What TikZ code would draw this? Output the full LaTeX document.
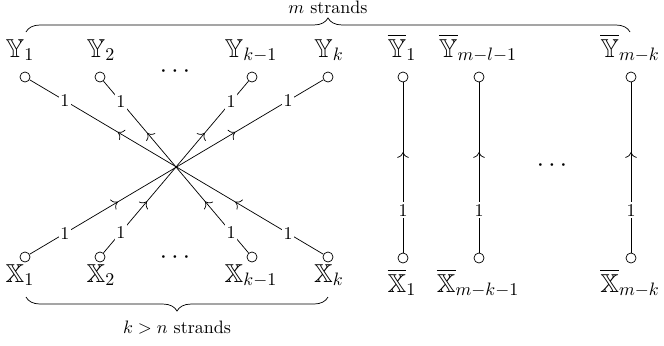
\documentclass[tikz,border=0pt]{standalone}
\usepackage{amssymb}
\usetikzlibrary{decorations.pathreplacing,decorations.markings,arrows.meta}
\begin{document}
\begin{tikzpicture}[x=0.5556pt,y=-0.5556pt,
  pt/.style={circle,draw,inner sep=0pt,minimum size=5.6pt},
  lab/.style={anchor=base,font=\Large},
  one/.style={fill=white,inner sep=1pt,font=\normalsize},
  diag/.style={decoration={markings,mark=at position 0.3 with {\arrow{To[scale=1.25]}},mark=at position 0.7 with {\arrow{To[scale=1.25]}}},postaction={decorate}},
  vert/.style={decoration={markings,mark=at position 0.59 with {\arrow{To[scale=1.25]}}},postaction={decorate}},
  bracestyle/.style={decorate,decoration={brace,amplitude=7.8pt}},
  dotsty/.style={font=\Large},
]
\useasboundingbox (0,0) rectangle (664,345);
% circles
\node[pt] (y1) at (25,77) {};
\node[pt] (y2) at (100,77) {};
\node[pt] (yk1) at (252,77) {};
\node[pt] (yk) at (328,77) {};
\node[pt] (x1) at (25,257) {};
\node[pt] (x2) at (100,257) {};
\node[pt] (xk1) at (252,257) {};
\node[pt] (xk) at (328,257) {};
\node[pt] (yb1) at (403,77) {};
\node[pt] (yb2) at (479,77) {};
\node[pt] (yb3) at (631,77) {};
\node[pt] (xb1) at (403,258) {};
\node[pt] (xb2) at (479,258) {};
\node[pt] (xb3) at (631,258) {};
% labels
\node[lab] (ly1) at (20,57) {$\mathbb{Y}_1$};
\node[lab] (ly2) at (101,57) {$\mathbb{Y}_2$};
\node[lab] (lyk1) at (251,57) {$\mathbb{Y}_{k-1}$};
\node[lab] (lyk) at (329,57) {$\mathbb{Y}_k$};
\node[lab] (lx1) at (20,282) {$\mathbb{X}_1$};
\node[lab] (lx2) at (101,282) {$\mathbb{X}_2$};
\node[lab] (lxk1) at (251,282) {$\mathbb{X}_{k-1}$};
\node[lab] (lxk) at (329,282) {$\mathbb{X}_k$};
\node[lab] (lyb1) at (402,57) {$\overline{\mathbb{Y}}_1$};
\node[lab] (lyb2) at (478,57) {$\overline{\mathbb{Y}}_{m-l-1}$};
\node[lab] (lyb3) at (630,57) {$\overline{\mathbb{Y}}_{m-k}$};
\node[lab] (lxb1) at (402,292) {$\overline{\mathbb{X}}_1$};
\node[lab] (lxb2) at (478,292) {$\overline{\mathbb{X}}_{m-k-1}$};
\node[lab] (lxb3) at (630,292) {$\overline{\mathbb{X}}_{m-k}$};
% dots
\node[dotsty] (dt) at (175,72) {$\cdots$};
\node[dotsty] (db) at (175,258) {$\cdots$};
\node[dotsty] (dr) at (552,166) {$\cdots$};
% strands
\draw[diag] (x1) -- node[one,pos=0.12]{1} node[one,pos=0.88]{1} (yk);
\draw[diag] (x2) -- node[one,pos=0.12]{1} node[one,pos=0.88]{1} (yk1);
\draw[diag] (xk1) -- node[one,pos=0.12]{1} node[one,pos=0.88]{1} (y2);
\draw[diag] (xk) -- node[one,pos=0.12]{1} node[one,pos=0.88]{1} (y1);
\draw[vert] (xb1) -- node[one,pos=0.25]{1} (yb1);
\draw[vert] (xb2) -- node[one,pos=0.25]{1} (yb2);
\draw[vert] (xb3) -- node[one,pos=0.25]{1} (yb3);
% braces
\coordinate (bt1) at (26,32);
\coordinate (bt2) at (630,32);
\coordinate (bb1) at (328,297);
\coordinate (bb2) at (26,297);
\draw[bracestyle] (bt1) -- (bt2);
\draw[bracestyle] (bb1) -- (bb2);
\node[anchor=base] (mt) at (328,13) {$m$ strands};
\node[anchor=base] (kt) at (177,333) {$k>n$ strands};
\end{tikzpicture}
\end{document}
